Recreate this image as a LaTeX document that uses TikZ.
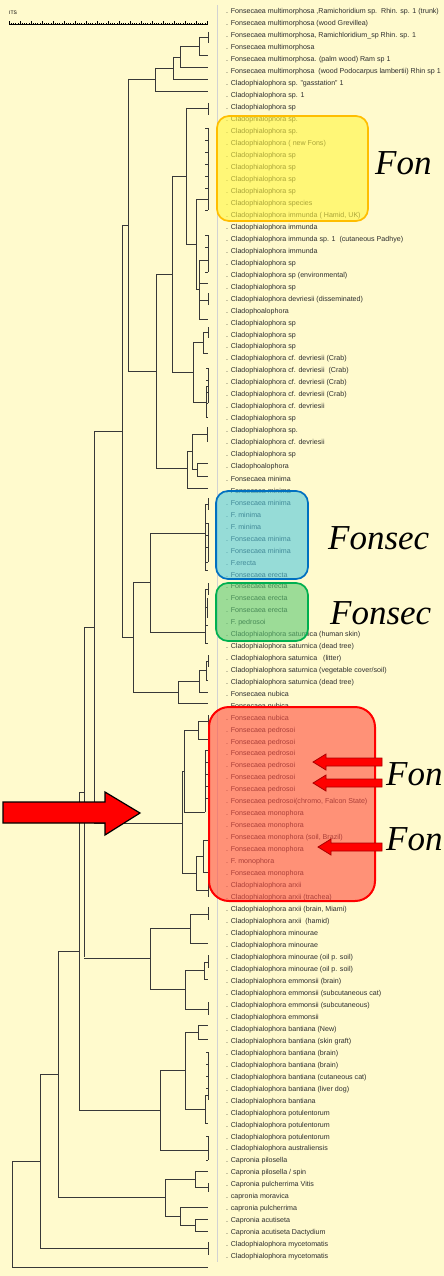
\documentclass[tikz,border=0pt]{standalone}
\usepackage{fontspec}
\setmainfont{Liberation Sans}
\newfontfamily\serifit{Liberation Serif}
\definecolor{bg}{RGB}{255,250,205}
\definecolor{lbl}{RGB}{45,45,45}
\definecolor{yfill}{RGB}{255,245,63}
\definecolor{ydraw}{RGB}{255,190,0}
\definecolor{bfill}{RGB}{80,200,223}
\definecolor{bdraw}{RGB}{0,112,192}
\definecolor{gfill}{RGB}{90,200,115}
\definecolor{gdraw}{RGB}{0,176,80}
\definecolor{rfill}{RGB}{255,75,63}
\definecolor{rdraw}{RGB}{255,0,0}
\definecolor{darkred}{RGB}{170,0,0}
\tikzset{
  treeline/.style={line width=0.9pt, black!78},
  lab/.style={anchor=west, inner sep=0pt, text=lbl, font=\fontsize{7.1}{8}\selectfont},
  bigtxt/.style={anchor=base west, inner sep=0pt, font=\serifit\itshape\fontsize{35}{36}\selectfont},
  hilite/.style={rounded corners=12pt, fill opacity=0.6, line width=1.7pt},
  smallarrow/.style={fill=red, draw=darkred, line width=0.8pt},
}
\newcommand\hl[3]{\draw[treeline] (#1,#3) -- (#2,#3);}
\newcommand\vl[3]{\draw[treeline] (#1,#2) -- (#1,#3);}
\newcommand\tks[3]{\foreach \yy in {#3}{\hl{#1}{#2}{\yy}}}
\begin{document}
\begin{tikzpicture}[x=1pt,y=-1pt]
\useasboundingbox (0,0) rectangle (444,1276);
\clip (0,0) rectangle (444,1276);
\fill[bg] (0,0) rectangle (444,1276);
% scale bar
\node[anchor=west, inner sep=0pt, font=\fontsize{5}{6}\selectfont] (its) at (9,13) {ITS};
\draw[line width=0.6pt] (9,24) -- (208,24);
\foreach \k in {0,...,90} { \draw[line width=0.4pt] ({9+2.2*\k},24) -- ++(0,-1.3); }
\foreach \k in {0,...,18} { \draw[line width=0.5pt] ({9+11*\k},24) -- ++(0,-2.6); }
% separator
\draw[gray!35, line width=0.8pt] (217,5) -- (217,1262);
% labels
\foreach \t [count=\i] in {
{. Fonsecaea multimorphosa ,Ramichoridium sp.\ \ Rhin. sp. 1 (trunk)},
{. Fonsecaea multimorphosa (wood Grevillea)},
{. Fonsecaea multimorphosa, Ramichloridium\_sp Rhin. sp. 1},
{. Fonsecaea multimorphosa},
{. Fonsecaea multimorphosa. (palm wood) Ram sp 1},
{. Fonsecaea multimorphosa\ \ (wood Podocarpus lambertii) Rhin sp 1},
{. Cladophialophora sp. "gasstation" 1},
{. Cladophialophora sp. 1},
{. Cladophialophora sp},
{. Cladophialophora sp.},
{. Cladophialophora sp.},
{. Cladophialophora ( new Fons)},
{. Cladophialophora sp},
{. Cladophialophora sp},
{. Cladophialophora sp},
{. Cladophialophora sp},
{. Cladophialophora species},
{. Cladophialophora immunda ( Hamid, UK)},
{. Cladophialophora immunda},
{. Cladophialophora immunda sp. 1\ \ (cutaneous Padhye)},
{. Cladophialophora immunda},
{. Cladophialophora sp},
{. Cladophialophora sp (environmental)},
{. Cladophialophora sp},
{. Cladophialophora devriesii (disseminated)},
{. Cladophoalophora},
{. Cladophialophora sp},
{. Cladophialophora sp},
{. Cladophialophora sp},
{. Cladophialophora cf. devriesii (Crab)},
{. Cladophialophora cf. devriesii\ \ (Crab)},
{. Cladophialophora cf. devriesii (Crab)},
{. Cladophialophora cf. devriesii (Crab)},
{. Cladophialophora cf. devriesii},
{. Cladophialophora sp},
{. Cladophialophora sp.},
{. Cladophialophora cf. devriesii},
{. Cladophialophora sp},
{. Cladophoalophora},
{. Fonsecaea minima},
{. Fonsecaea minima},
{. Fonsecaea minima},
{. F. minima},
{. F. minima},
{. Fonsecaea minima},
{. Fonsecaea minima},
{. F.erecta},
{. Fonsecaea erecta},
{. Fonsecaea erecta},
{. Fonsecaea erecta},
{. Fonsecaea erecta},
{. F. pedrosoi},
{. Cladophialophora saturnica (human skin)},
{. Cladophialophora saturnica (dead tree)},
{. Cladophialophora saturnica\ \ \ (litter)},
{. Cladophialophora saturnica (vegetable cover/soil)},
{. Cladophialophora saturnica (dead tree)},
{. Fonsecaea nubica},
{. Fonsecaea nubica},
{. Fonsecaea nubica},
{. Fonsecaea pedrosoi},
{. Fonsecaea pedrosoi},
{. Fonsecaea pedrosoi},
{. Fonsecaea pedrosoi},
{. Fonsecaea pedrosoi},
{. Fonsecaea pedrosoi},
{. Fonsecaea pedrosoi(chromo, Falcon State)},
{. Fonsecaea monophora},
{. Fonsecaea monophora},
{. Fonsecaea monophora (soil, Brazil)},
{. Fonsecaea monophora},
{. F. monophora},
{. Fonsecaea monophora},
{. Cladophialophora arxii},
{. Cladophialophora arxii (trachea)},
{. Cladophialophora arxii (brain, Miami)},
{. Cladophialophora arxii\ \ (hamid)},
{. Cladophialophora minourae},
{. Cladophialophora minourae},
{. Cladophialophora minourae (oil p. soil)},
{. Cladophialophora minourae (oil p. soil)},
{. Cladophialophora emmonsii (brain)},
{. Cladophialophora emmonsii (subcutaneous cat)},
{. Cladophialophora emmonsii (subcutaneous)},
{. Cladophialophora emmonsii},
{. Cladophialophora bantiana (New)},
{. Cladophialophora bantiana (skin graft)},
{. Cladophialophora bantiana (brain)},
{. Cladophialophora bantiana (brain)},
{. Cladophialophora bantiana (cutaneous cat)},
{. Cladophialophora bantiana (liver dog)},
{. Cladophialophora bantiana},
{. Cladophialophora potulentorum},
{. Cladophialophora potulentorum},
{. Cladophialophora potulentorum},
{. Cladophialophora australiensis},
{. Capronia pilosella},
{. Capronia pilosella / spin},
{. Capronia pulcherrima Vitis},
{. capronia moravica},
{. capronia pulcherrima},
{. Capronia acutiseta},
{. Capronia acutiseta Dactydium},
{. Cladophialophora mycetomatis},
{. Cladophialophora mycetomatis}}
{ \node[lab] (L\i) at (226,{12+(\i-1)*11.97}) {\t}; }
% ================= tree =================
% multimorphosa clade
\vl{208}{32}{43}\hl{199}{208}{37}\vl{199}{37}{55}\hl{199}{208}{55}
\hl{180}{199}{46}\vl{180}{46}{67}\hl{180}{208}{67}
\hl{173}{180}{57}\vl{173}{57}{79}\hl{173}{208}{79}
\hl{155}{173}{68}\vl{155}{68}{91}\hl{155}{208}{91}
\hl{128}{155}{79}\vl{128}{79}{371}\hl{122}{128}{225}
% big Cladophialophora clade
\hl{128}{156}{371}\vl{156}{274}{468}
\hl{156}{172}{274}\vl{172}{176}{372}
\hl{172}{186}{176}\vl{186}{108}{244}
\hl{186}{208}{108}\vl{208}{103}{115}
\hl{186}{196}{244}\vl{196}{199}{289}
\hl{196}{208}{199}\vl{208}{128}{210}\tks{205}{208}{128,140,152,164,176,188,210}
\hl{196}{199}{289}\vl{199}{260}{319}
\hl{199}{208}{260}\vl{208}{235}{272}\tks{205}{208}{235,247,272}
\hl{199}{208}{283}
\hl{199}{208}{300}\vl{208}{293}{305}
\hl{199}{208}{319}
\hl{172}{193}{372}\vl{193}{342}{402}
\hl{193}{203}{342}\vl{203}{332}{353}\hl{203}{208}{332}\vl{208}{327}{338}\hl{203}{208}{353}
\hl{193}{206}{402}\vl{206}{386}{417}\hl{206}{208}{386}\vl{208}{368}{403}\tks{206}{208}{368,380,392,403}\hl{206}{208}{417}
\hl{156}{187}{468}\vl{187}{451}{488}\hl{187}{208}{488}
\hl{187}{192}{451}\vl{192}{434}{469}
\hl{192}{207}{434}\vl{207}{427}{442}
\hl{192}{197}{469}\vl{197}{463}{476}\hl{197}{208}{463}\hl{197}{208}{476}
% backbone
\vl{122}{225}{637}\hl{94}{122}{431}\vl{94}{431}{823}\hl{84}{94}{627}\vl{84}{627}{957}\hl{79}{84}{792}
% minima / erecta / saturnica
\hl{122}{133}{637}\vl{133}{582}{692}
\hl{133}{150}{582}\vl{150}{533}{632}
\hl{150}{205}{533}\vl{205}{504}{570}\hl{205}{208}{504}\vl{208}{498}{510}\vl{208}{523}{562}\tks{205}{208}{523,535,547,562,570}
\hl{150}{205}{632}\vl{205}{589}{643}\hl{205}{208}{589}\vl{208}{583}{595}\hl{205}{207}{607}\vl{207}{598}{617}\tks{207}{208}{598,617}\tks{205}{208}{625,643}
\hl{133}{178}{692}\vl{178}{681}{703}\hl{178}{208}{703}\hl{178}{199}{681}\vl{199}{670}{692}\hl{199}{208}{692}
\hl{199}{206}{670}\vl{206}{661}{680}\hl{206}{208}{661}\vl{208}{655}{667}\hl{206}{208}{680}
% red clade
\hl{94}{182}{823}\vl{182}{771}{873}\hl{182}{184}{771}\vl{184}{730}{812}
\hl{184}{198}{730}\vl{198}{721}{739}\hl{198}{208}{721}\vl{208}{715}{727}\hl{198}{208}{739}
\hl{184}{205}{812}\vl{205}{750}{812}\tks{205}{208}{750,762,774,786,798}\vl{208}{750}{800}
\hl{182}{196}{873}\vl{196}{856}{890}
\hl{196}{203}{856}\vl{203}{840}{872}\hl{203}{208}{840}\vl{208}{833}{847}\hl{203}{208}{872}
\hl{196}{208}{890}\vl{208}{883}{897}
% arxii / minourae / emmonsii
\hl{84}{150}{958}\vl{150}{928}{989}
\hl{150}{190}{928}\vl{190}{914}{943}\hl{190}{208}{914}\vl{208}{907}{920}\hl{190}{208}{943}
\hl{150}{185}{989}\vl{185}{970}{1009}
\hl{185}{204}{970}\vl{204}{962}{979}\hl{204}{208}{962}\vl{208}{955}{968}\hl{204}{208}{979}
\hl{185}{208}{1009}\vl{208}{1002}{1015}
% bantiana group
\vl{79}{792}{1110}\hl{58}{79}{951}
\hl{79}{160}{1110}\vl{160}{1070}{1150}
\hl{160}{185}{1070}\vl{185}{1032}{1109}
\hl{185}{198}{1032}\vl{198}{1025}{1039}\hl{198}{208}{1025}\hl{198}{208}{1039}
\hl{185}{205}{1109}\vl{205}{1095}{1123}\hl{205}{208}{1095}\vl{208}{1052}{1100}\tks{206}{208}{1052,1064,1076,1088}\hl{205}{208}{1123}
\hl{160}{200}{1150}\hl{200}{208}{1150}\vl{208}{1136}{1160}\tks{206}{208}{1136,1160}
% Capronia group
\vl{58}{951}{1197}\hl{40}{58}{1074}
\hl{58}{165}{1197}\vl{165}{1179}{1216}
\hl{165}{195}{1179}\vl{195}{1171}{1187}\hl{195}{208}{1171}\hl{195}{208}{1187}\vl{208}{1183}{1192}
\hl{165}{180}{1216}\vl{180}{1207}{1225}\hl{180}{208}{1207}
\hl{180}{195}{1225}\vl{195}{1219}{1231}\hl{195}{208}{1219}\hl{195}{208}{1231}
% mycetomatis and root
\vl{40}{1074}{1248}\hl{40}{208}{1248}\vl{208}{1242}{1255}
\hl{12}{40}{1161}\vl{12}{1161}{1267}\hl{12}{208}{1267}
% ---- highlight boxes (over text) ----
\draw[hilite, fill=yfill, draw=ydraw] (217,116) rectangle (368,221);
\draw[hilite, fill=bfill, draw=bdraw] (216,491) rectangle (308,579);
\draw[hilite, fill=gfill, draw=gdraw] (216,583) rectangle (308,641);
\draw[hilite, rounded corners=20pt, fill=rfill, draw=rdraw, line width=2pt] (209,707) rectangle (375,901);
% ---- big italic texts ----
\node[bigtxt] (t1) at (375,175) {Fon};
\node[bigtxt] (t2) at (328,549) {Fonsec};
\node[bigtxt] (t3) at (330,624) {Fonsec};
\node[bigtxt] (t4) at (386,785) {Fon};
\node[bigtxt] (t5) at (386,850) {Fon};
% ---- arrows ----
\draw[fill=red, draw=black, line width=1.2pt] (3,802) -- (105,802) -- (105,792) -- (140,813) -- (105,835) -- (105,823) -- (3,823) -- cycle;
\draw[smallarrow] (313,762) -- (326,754) -- (326,758) -- (382,758) -- (382,766) -- (326,766) -- (326,770) -- cycle;
\draw[smallarrow] (313,783) -- (326,775) -- (326,779) -- (382,779) -- (382,787) -- (326,787) -- (326,791) -- cycle;
\draw[smallarrow] (318,847) -- (331,839) -- (331,843) -- (382,843) -- (382,851) -- (331,851) -- (331,855) -- cycle;
\end{tikzpicture}
\end{document}
